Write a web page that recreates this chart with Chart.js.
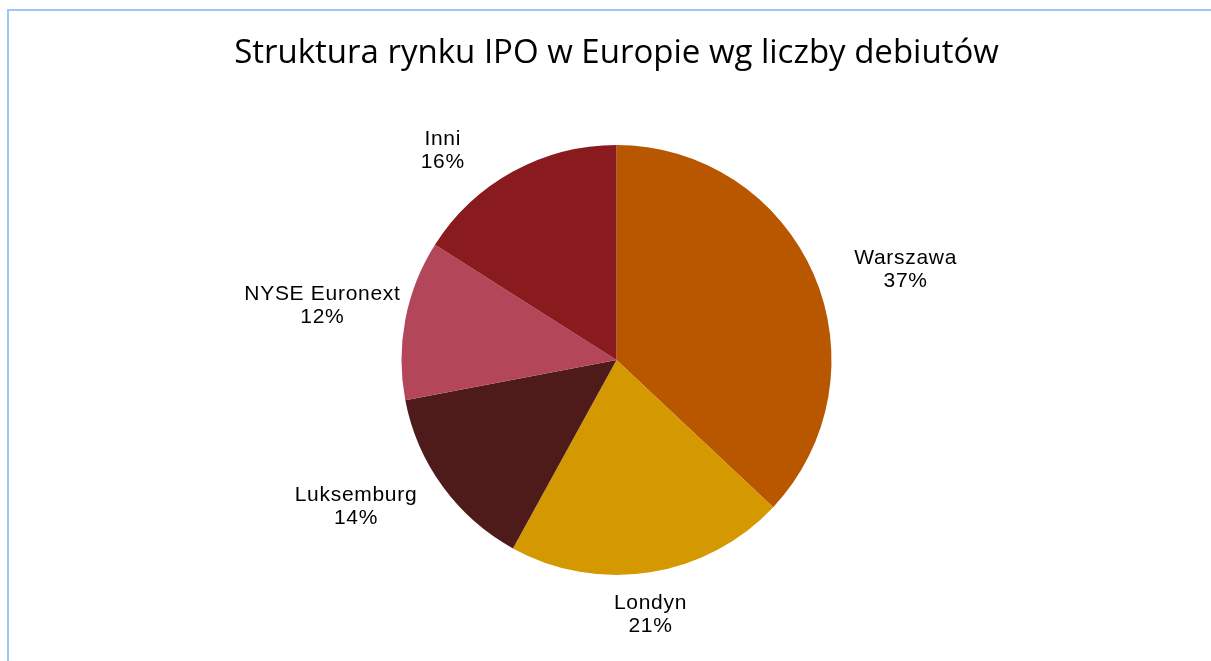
<!DOCTYPE html>
<html>
<head>
<meta charset="utf-8">
<script src="https://cdn.jsdelivr.net/npm/chart.js@4.4.1/dist/chart.umd.min.js"></script>
<style>
  html, body { margin: 0; padding: 0; background: #fff; }
  #wrap { width: 1211px; height: 661px; position: relative; }
</style>
</head>
<body>
<div id="wrap"><canvas id="ipoChart"></canvas></div>
<script>
// Chart data
const titleText = 'Struktura rynku IPO w Europie wg liczby debiutów';
const markets = ['Warszawa', 'Londyn', 'Luksemburg', 'NYSE Euronext', 'Inni'];
const shares = [37, 21, 14, 12, 16];
const sliceColors = ['#B85700', '#D49800', '#4E1B1A', '#B4465A', '#891B1E'];

// Draws the light blue frame of the chart object
const framePlugin = {
    id: 'frame',
    beforeDraw: (chart) => {
        const ctx = chart.ctx;
        ctx.save();
        ctx.strokeStyle = '#9DC5F8';
        ctx.lineWidth = 2;
        ctx.strokeRect(8, 10, chart.width, chart.height);
        ctx.restore();
    }
};

// Outside-end labels: category name + percent, placed around each slice
const outsideLabels = {
    id: 'outsideLabels',
    afterDatasetsDraw: (chart, args, opts) => {
        const ctx = chart.ctx;
        const meta = chart.getDatasetMeta(0);
        const values = chart.data.datasets[0].data;
        const total = values.reduce((a, b) => a + b, 0);
        ctx.save();
        ctx.font = opts.font;
        ctx.letterSpacing = opts.letterSpacing;
        ctx.fillStyle = '#000';
        ctx.textAlign = 'center';
        ctx.textBaseline = 'middle';
        meta.data.forEach((arc, i) => {
            const p = arc.getProps(['x', 'y', 'startAngle', 'endAngle', 'outerRadius'], true);
            const place = opts.placement[i];
            const mid = (p.startAngle + p.endAngle) / 2 + place.shift * Math.PI / 180;
            const dist = p.outerRadius + place.gap;
            const cx = p.x + Math.cos(mid) * dist;
            const cy = p.y + Math.sin(mid) * dist;
            const pct = Math.round(values[i] / total * 100) + '%';
            ctx.fillText(chart.data.labels[i], cx, cy - opts.lineGap / 2);
            ctx.fillText(pct, cx, cy + opts.lineGap / 2);
        });
        ctx.restore();
    }
};

new Chart(document.getElementById('ipoChart'), {
    type: 'pie',
    data: {
        labels: markets,
        datasets: [{
            data: shares,
            backgroundColor: sliceColors,
            borderWidth: 0,
            radius: 215
        }]
    },
    options: {
        responsive: true,
        maintainAspectRatio: false,
        animation: false,
        layout: { padding: { left: 22, right: 0, top: 0, bottom: 23.6 } },
        plugins: {
            legend: { display: false },
            tooltip: { enabled: false },
            title: {
                display: true,
                text: titleText,
                color: '#000',
                font: { family: '"Open Sans", sans-serif', size: 33, weight: 'normal', lineHeight: 1.2 },
                padding: { top: 34, bottom: 9 }
            },
            outsideLabels: {
                font: '21px "Liberation Sans", Arial, sans-serif',
                letterSpacing: '0.7px',
                lineGap: 23,
                placement: [
                    { shift: 6, gap: 88 },
                    { shift: 1.4, gap: 42 },
                    { shift: 6.6, gap: 84 },
                    { shift: -0.4, gap: 84 },
                    { shift: -10.9, gap: 57 }
                ]
            }
        }
    },
    plugins: [framePlugin, outsideLabels]
});
</script>
</body>
</html>
